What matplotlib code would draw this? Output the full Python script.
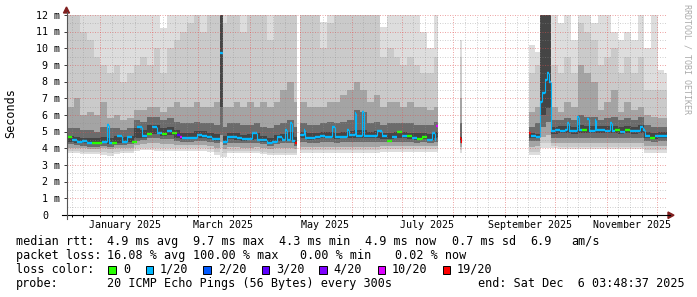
import datetime as dt

import numpy as np
import matplotlib
matplotlib.use('Agg')
import matplotlib.pyplot as plt
import matplotlib.dates as mdates
import matplotlib.transforms as mtransforms
from matplotlib.lines import Line2D
from matplotlib.patches import Polygon, Rectangle

W, H = 697, 297

start = dt.datetime(2024, 12, 12, 6, 0)   # left edge of the time axis
span = 360                                 # days on the axis

# smoke columns, start day (offset from start) of each column; None rows = no data
smoke_day = [
    0, 4, 8, 12, 16, 20, 24, 28, 32, 36, 40, 44, 48, 52, 56, 60, 64, 68,
    72, 76, 80, 84, 88, 92.0, 93.4, 96, 100, 104, 108, 112, 116, 120, 124,
    128, 132, 136,
    138,
    140, 144, 148, 152, 156, 160, 164, 168, 172, 176, 180, 184, 188, 192,
    196, 200, 204, 208, 212, 216, 220,
    222.3, 235.8, 237.2,
    277.2, 280.6, 283.8, 287.2, 290.4, 294.4, 298.4, 302.4, 306.4, 310.4,
    314.4, 318.4, 322.4, 326.4, 330.4, 334.4, 338.4, 342.4, 346.4, 350.4,
    354.4, 358.4,
]

# ping percentiles (ms) per smoke column, p01 = fastest ... p20 = slowest
p01 = [
    3.7, 3.7, 3.65, 3.65, 3.65, 3.6, 3.55, 3.65, 3.7, 3.7, 3.85, 3.9, 3.9, 3.85, 3.85, 3.85, 3.85, 3.85,
    3.85, 3.85, 3.85, 3.8, 3.6, 3.5, 3.5, 3.7, 3.7, 3.7, 3.7, 3.7, 3.65, 3.6, 3.6,
    3.6, 3.6, 3.6,
    None,
    3.75, 3.75, 3.75, 3.75, 3.75, 3.75, 3.75, 3.75, 3.75, 3.75, 3.75, 3.75, 3.8, 3.8,
    3.8, 3.8, 3.8, 3.8, 3.8, 3.8, 3.8,
    None, 3.7, None,
    3.6, 3.6, 4.0, 4.0, 4.0, 3.95, 3.95, 3.95, 3.95, 3.95,
    3.95, 3.95, 3.95, 3.95, 3.95, 3.95, 3.95, 3.95, 3.7, 3.7,
    3.7, 3.7,
]
p02 = [
    3.85, 3.85, 3.8, 3.8, 3.8, 3.8, 3.75, 3.8, 3.85, 3.85, 4.0, 4.05, 4.05, 4.0, 4.0, 4.0, 4.0, 4.0,
    4.0, 4.0, 4.0, 3.95, 3.8, 4.0, 3.7, 3.85, 3.85, 3.85, 3.85, 3.85, 3.8, 3.75, 3.75,
    3.75, 3.75, 3.75,
    None,
    3.9, 3.9, 3.9, 3.9, 3.9, 3.9, 3.9, 3.9, 3.9, 3.9, 3.9, 3.9, 3.95, 3.95,
    3.95, 3.95, 3.95, 3.95, 3.95, 3.95, 3.95,
    None, 3.9, None,
    3.8, 3.8, 4.3, 4.3, 4.15, 4.1, 4.1, 4.1, 4.1, 4.1,
    4.1, 4.1, 4.1, 4.1, 4.1, 4.1, 4.1, 4.1, 3.9, 3.9,
    3.9, 3.9,
]
p04 = [
    4.05, 4.0, 4.0, 3.95, 3.95, 4.0, 3.95, 4.0, 4.0, 4.05, 4.2, 4.25, 4.3, 4.3, 4.25, 4.25, 4.2, 4.2,
    4.2, 4.2, 4.2, 4.15, 4.05, 4.4, 3.95, 4.1, 4.1, 4.05, 4.05, 4.1, 4.0, 3.95, 4.0,
    4.0, 4.0, 3.95,
    None,
    4.1, 4.1, 4.1, 4.1, 4.1, 4.1, 4.1, 4.1, 4.1, 4.1, 4.1, 4.1, 4.15, 4.15,
    4.15, 4.15, 4.15, 4.15, 4.15, 4.15, 4.15,
    None, 4.1, None,
    4.1, 4.15, 4.7, 4.8, 4.35, 4.35, 4.35, 4.35, 4.35, 4.35,
    4.35, 4.35, 4.35, 4.35, 4.35, 4.35, 4.35, 4.35, 4.15, 4.15,
    4.15, 4.15,
]
p07 = [
    4.25, 4.2, 4.15, 4.1, 4.1, 4.15, 4.1, 4.2, 4.2, 4.25, 4.45, 4.5, 4.6, 4.6, 4.55, 4.55, 4.45, 4.4,
    4.4, 4.45, 4.45, 4.4, 4.3, 4.8, 4.2, 4.35, 4.35, 4.3, 4.3, 4.35, 4.25, 4.15, 4.25,
    4.3, 4.3, 4.15,
    None,
    4.4, 4.35, 4.35, 4.4, 4.4, 4.35, 4.4, 4.4, 4.4, 4.4, 4.4, 4.4, 4.4, 4.4,
    4.4, 4.4, 4.4, 4.35, 4.4, 4.35, 4.4,
    None, 4.3, None,
    4.45, 4.45, 5.3, 5.6, 4.65, 4.65, 4.65, 4.65, 4.65, 4.65,
    4.65, 4.65, 4.65, 4.65, 4.65, 4.65, 4.65, 4.65, 4.45, 4.4,
    4.45, 4.45,
]
p09 = [
    4.4, 4.35, 4.3, 4.25, 4.25, 4.3, 4.25, 4.35, 4.35, 4.4, 4.65, 4.65, 4.85, 4.85, 4.75, 4.8, 4.65, 4.55,
    4.55, 4.6, 4.6, 4.55, 4.45, 6.5, 4.35, 4.55, 4.5, 4.45, 4.5, 4.55, 4.4, 4.3, 4.45,
    4.45, 4.5, 4.3,
    None,
    4.6, 4.5, 4.55, 4.6, 4.6, 4.55, 4.6, 4.6, 4.6, 4.6, 4.6, 4.6, 4.55, 4.55,
    4.6, 4.6, 4.55, 4.5, 4.55, 4.5, 4.6,
    None, 4.45, None,
    4.65, 4.6, 6.0, 6.4, 4.85, 4.9, 4.9, 4.85, 4.9, 4.9,
    4.9, 4.9, 4.9, 4.9, 4.85, 4.9, 4.85, 4.9, 4.6, 4.55,
    4.6, 4.6,
]
p12 = [
    4.75, 4.7, 4.65, 4.6, 4.6, 4.7, 4.65, 4.75, 4.7, 4.75, 5.2, 5.1, 5.4, 5.4, 5.25, 5.3, 5.1, 4.95,
    4.95, 5.05, 5.05, 4.95, 4.85, 12.5, 4.75, 4.95, 4.9, 4.8, 4.85, 4.95, 4.75, 4.65, 4.8,
    4.85, 5.0, 4.7,
    None,
    5.0, 4.9, 4.95, 5.0, 5.0, 4.95, 5.0, 5.05, 5.1, 5.1, 5.0, 5.05, 4.95, 4.95,
    5.0, 5.0, 4.95, 4.9, 4.9, 4.85, 5.0,
    None, 4.7, None,
    4.9, 4.85, 12.5, 12.5, 5.3, 5.35, 5.35, 5.3, 5.4, 5.35,
    5.35, 5.35, 5.35, 5.35, 5.3, 5.35, 5.3, 5.4, 5.0, 4.95,
    5.0, 5.0,
]
p14 = [
    5.2, 5.2, 5.1, 5.1, 5.0, 5.3, 5.2, 5.2, 5.1, 5.2, 5.7, 5.6, 5.9, 5.9, 5.7, 5.8, 5.6, 5.5,
    5.5, 5.6, 5.5, 5.5, 5.4, 12.5, 5.3, 5.5, 5.5, 5.4, 5.4, 5.5, 5.3, 5.2, 5.4,
    5.5, 5.7, 5.3,
    None,
    5.5, 5.4, 5.4, 5.5, 5.6, 5.5, 5.6, 5.7, 6.3, 6.2, 5.5, 5.6, 5.4, 5.5,
    5.5, 5.5, 5.5, 5.4, 5.4, 5.4, 5.6,
    None, 5.5, None,
    5.3, 5.5, 12.5, 12.5, 5.7, 5.7, 5.8, 5.7, 6.0, 5.9,
    5.9, 5.7, 5.8, 5.9, 5.7, 5.8, 5.7, 5.9, 5.4, 5.3,
    5.3, 5.3,
]
p17 = [
    6.5, 7.0, 6.0, 6.2, 6.0, 6.8, 5.8, 6.0, 5.7, 5.8, 6.3, 6.3, 6.5, 6.5, 6.2, 6.5, 6.8, 6.5,
    6.5, 6.8, 6.5, 6.5, 6.8, 12.5, 6.5, 6.5, 6.8, 6.5, 6.8, 6.5, 6.8, 6.5, 6.8,
    7.5, 8.0, 6.8,
    None,
    6.8, 6.5, 6.5, 6.5, 6.8, 6.8, 7.2, 7.5, 8.0, 7.5, 6.8, 7.2, 6.5, 6.8,
    6.8, 6.5, 6.8, 6.5, 6.5, 6.3, 6.5,
    None, 7.0, None,
    6.2, 6.5, 12.5, 12.5, 6.5, 6.2, 6.8, 6.5, 9.0, 8.5,
    8.0, 6.3, 6.8, 7.5, 6.2, 6.8, 6.3, 6.5, 6.0, 5.9,
    5.8, 5.8,
]
p19 = [
    12.5, 12.5, 11.0, 10.5, 9.5, 9.0, 8.5, 9.0, 8.0, 8.5, 9.0, 9.5, 9.0, 10.0, 8.5, 10.0, 10.5, 11.0,
    11.5, 12.5, 11.0, 12.5, 12.5, 12.5, 11.5, 12.5, 12.5, 11.0, 12.5, 12.5, 12.5, 10.5, 12.5,
    12.5, 12.5, 12.5,
    None,
    12.5, 12.5, 12.5, 10.0, 11.5, 12.5, 12.5, 12.5, 12.5, 12.5, 12.5, 12.5, 9.5, 10.0,
    9.5, 9.0, 9.5, 9.0, 8.5, 8.5, 9.5,
    None, 9.5, None,
    8.5, 9.0, 12.5, 12.5, 9.0, 8.5, 9.5, 8.5, 11.5, 11.0,
    10.5, 9.0, 9.5, 10.0, 8.5, 9.5, 8.5, 9.5, 7.5, 7.5,
    7.5, 7.5,
]
p20 = [
    12.5, 12.5, 12.5, 12.5, 12.5, 12.5, 12.5, 12.5, 12.5, 12.5, 12.5, 12.5, 12.5, 12.5, 11.2, 12.5, 12.5, 12.5,
    12.5, 12.5, 12.5, 12.5, 12.5, 12.5, 12.5, 12.5, 12.5, 12.5, 12.5, 12.5, 12.5, 12.5, 12.5,
    12.5, 12.5, 12.5,
    None,
    12.5, 12.5, 12.5, 11.6, 12.5, 12.5, 12.5, 12.5, 12.5, 12.5, 12.5, 12.5, 11.3, 12.5,
    12.5, 12.5, 12.5, 12.5, 11.0, 10.0, 12.5,
    None, 10.5, None,
    10.2, 9.8, 12.5, 12.5, 12.5, 11.5, 12.5, 10.5, 12.5, 12.5,
    11.5, 12.5, 12.5, 11.0, 10.5, 11.0, 10.5, 12.5, 10.0, 12.5,
    8.7, 8.5,
]

# median rtt (ms) and lost pings (of 20) per step
med_day = [
    0, 3, 6, 9, 12, 15, 18, 21, 24, 25, 27, 30, 33, 36, 39, 42, 45, 48, 51, 54, 57, 60, 63, 66, 68, 69,
    72, 75, 78, 81, 84, 87, 90, 92.0, 93.4, 96, 99, 102, 105, 108, 111, 114, 117, 120, 123, 126, 129,
    131, 132, 134, 135, 136.5,
    138,
    140, 142, 143, 146, 149, 152, 155, 158, 159, 160.5, 163, 166, 168, 169, 171, 172.5, 173.5, 176,
    177, 178, 180, 183, 186, 189, 192, 195, 198, 201, 204, 207, 210, 213, 216, 219, 220.5, 221.5,
    222.3,
    235.8, 236.4,
    237.2,
    277.2, 278.4, 281.1, 283.8, 285.1, 286.6, 287.9, 289.2, 290.4, 293, 296, 299, 300, 301, 303,
    306, 307, 309, 312, 313, 315, 316.5, 317.5, 320, 323, 326, 327, 329, 332, 335, 338, 341, 344,
    345.8, 347, 350, 353, 356,
]
med_ms = [
    4.7, 4.5, 4.4, 4.45, 4.35, 4.35, 4.35, 4.4, 5.4, 4.3, 4.35, 4.75, 4.4, 4.7, 4.4, 5.3, 4.75, 4.85,
    5.3, 4.95, 4.85, 5.05, 4.9, 4.8, 4.7, 4.6,
    4.65, 4.65, 4.8, 4.75, 4.7, 4.55, 4.55, 9.7, 4.4, 4.7, 4.7, 4.6, 4.55, 4.55, 4.9, 4.5, 4.5, 4.35,
    4.4, 4.7, 4.5, 5.1, 4.5, 5.5, 4.45, 4.35,
    None,
    4.8, 5.1, 4.65, 4.65, 4.7, 4.75, 4.7, 4.7, 5.3, 4.7, 4.7, 4.7, 5.1, 4.8, 4.8, 6.1, 4.75, 4.75,
    6.2, 4.75, 4.75, 4.75, 5.05, 4.75, 4.45, 4.7, 5.0, 4.75, 4.75, 4.65, 4.55, 4.7, 4.5, 4.9, 4.5, 5.35,
    None,
    4.6, 4.4,
    None,
    4.9, 4.75, 4.7, 6.8, 7.35, 8.1, 8.5, 8.0, 5.05, 5.1, 5.05, 5.1, 5.55, 5.05, 5.05,
    5.9, 5.1, 5.1, 5.75, 5.05, 5.05, 5.7, 5.1, 5.1, 5.05, 5.55, 5.05, 5.1, 5.0, 5.1, 5.05, 5.05, 5.3,
    5.1, 4.75, 4.65, 4.75, 4.75,
]
med_loss = [
    0, 1, 1, 1, 1, 0, 0, 1, 1, 1, 0, 1, 1, 1, 0, 1, 1, 0, 1, 1, 0, 1, 0, 3, 10, 1,
    1, 1, 1, 1, 1, 1, 1, 1, 1, 1, 1, 1, 1, 1, 1, 1, 1, 1, 1, 1, 1, 1, 1, 1, 1, 19,
    None,
    1, 1, 1, 1, 1, 1, 1, 1, 1, 1, 1, 1, 1, 1, 1, 1, 1, 1, 1, 1, 1, 1, 1, 1,
    0, 1, 0, 1, 0, 1, 0, 0, 1, 1, 1, 10,
    None,
    19, 19,
    None,
    19, 1, 1, 1, 1, 1, 1, 1, 1, 1, 1, 1, 1, 1, 1, 1, 1, 0, 1, 1, 1, 1, 1, 1, 1, 1, 1, 0, 1, 0,
    1, 1, 1, 1, 1, 0, 1, 1,
]

loss_colors = {0: '#26ff00', 1: '#00b8ff', 2: '#0059ff', 3: '#5e00ff',
               4: '#7e00ff', 10: '#dd00ff', 19: '#ff0000'}
loss_names = {0: '0', 1: '1/20', 2: '2/20', 3: '3/20', 4: '4/20', 10: '10/20', 19: '19/20'}
label_months = [1, 3, 5, 7, 9, 11]

for arr in (p01, p02, p04, p07, p09, p12, p14, p17, p19, p20):
    assert len(arr) == len(smoke_day), len(arr)
assert len(med_ms) == len(med_day) == len(med_loss)


def fx(px):
    return px / W


def fy(py):
    return 1 - py / H


plt.rcParams['font.family'] = 'DejaVu Sans Mono'

fig = plt.figure(figsize=(W / 100, H / 100), dpi=100, facecolor='white')
ax = fig.add_axes([fx(67), fy(215), 600 / W, 200 / H])
t0 = mdates.date2num(start)
ax.set_xlim(t0, t0 + span)
ax.set_ylim(0, 12)
for s in ax.spines.values():
    s.set_visible(False)

# smoke, outer (lightest) band first
sd = np.array(smoke_day + [span], dtype=float)
widths = np.diff(sd)
bands = [(p01, p20, '#dddddd'), (p02, p19, '#cacaca'), (p04, p17, '#a4a4a4'),
         (p07, p14, '#6b6b6b'), (p09, p12, '#454545')]
for lo, hi, col in bands:
    lo = np.array(lo, dtype=float)
    hi = np.array(hi, dtype=float)
    ok = ~np.isnan(lo)
    ax.bar(t0 + sd[:-1][ok], (hi - lo)[ok], bottom=lo[ok], width=widths[ok],
           align='edge', color=col, linewidth=0, antialiased=False, zorder=1)

# median: thick steps per loss class, thin joins between steps of the same class
md = np.array(med_day + [span], dtype=float)
for code, col in loss_colors.items():
    hx, hy, vx, vy = [], [], [], []
    for i, (m, l) in enumerate(zip(med_ms, med_loss)):
        if m is None or l != code:
            continue
        hx += [md[i], md[i + 1], np.nan]
        hy += [m, m, np.nan]
        nxt = med_ms[i + 1] if i + 1 < len(med_ms) else None
        if nxt is not None and med_loss[i + 1] == code and abs(nxt - m) < 3:
            vx += [md[i + 1], md[i + 1], np.nan]
            vy += [m, nxt, np.nan]
    if hx:
        ax.plot(t0 + np.array(hx), hy, color=col, lw=1.7, solid_capstyle='butt', zorder=2)
    if vx:
        ax.plot(t0 + np.array(vx), vy, color=col, lw=0.8, solid_capstyle='butt', zorder=2)

# grid on top, like rrdtool
grid_col = (0.56, 0.56, 0.56, 0.4)
mgrid_col = (0.87, 0.31, 0.31, 0.5)
dots = (0, (1, 1.5))
for k in range(1, 25):
    ax.axhline(k * 0.5, color=mgrid_col if k % 2 == 0 else grid_col,
               lw=0.72, ls=dots, zorder=3)

month_lines, week_lines = [], []
for yy, mm in [(2024, 12)] + [(2025, m) for m in range(1, 13)]:
    month_lines.append(mdates.date2num(dt.datetime(yy, mm, 1)))
    for dd in (8, 15, 22):
        week_lines.append(mdates.date2num(dt.datetime(yy, mm, dd)))
month_lines = [v for v in month_lines if t0 < v < t0 + span]
week_lines = [v for v in week_lines if t0 < v < t0 + span]
for v in week_lines:
    ax.axvline(v, color=grid_col, lw=0.72, ls=dots, zorder=3)
for v in month_lines:
    ax.axvline(v, color=mgrid_col, lw=0.72, ls=dots, zorder=3)

ax.set_xticks(sorted(month_lines + week_lines))
ax.set_yticks(range(13))
ax.tick_params(axis='x', length=1.5, width=0.72, color='black', labelbottom=False)
ax.tick_params(axis='y', length=2.2, width=0.72, color='#404040', labelleft=False)

# tick labels
ytrans = mtransforms.blended_transform_factory(fig.transFigure, ax.transData) + \
    mtransforms.ScaledTranslation(0, -3.6 / 100, fig.dpi_scale_trans)
for v in range(13):
    if v == 0:
        fig.text(fx(48), v, '0', ha='right', va='baseline', fontsize=7.2, transform=ytrans)
    else:
        fig.text(fx(60), v, f'{v} m', ha='right', va='baseline', fontsize=7.2, transform=ytrans)

xtrans = mtransforms.blended_transform_factory(ax.transData, fig.transFigure)
for m in label_months:
    d = dt.datetime(2025, m, 16)
    fig.text(mdates.date2num(d), fy(228), d.strftime('%B %Y'), ha='center', va='baseline',
             fontsize=7.2, transform=xtrans)

fig.text(fx(11), fy(113), 'Seconds', rotation=90, ha='center', va='center', fontsize=8.5)
fig.text(fx(687), fy(4), 'RRDTOOL / TOBI OETIKER', rotation=270, ha='center', va='top',
         fontsize=6, color='#aaaaaa')

# axes with arrows
arrow_col = '#801f1f'
fig.add_artist(Line2D([fx(62), fx(670)], [fy(215), fy(215)], color='black', lw=0.8,
                      transform=fig.transFigure))
fig.add_artist(Polygon([[fx(668), fy(212)], [fx(668), fy(218.5)], [fx(674), fy(215.2)]],
                       closed=True, color=arrow_col, transform=fig.transFigure))
fig.add_artist(Line2D([fx(66.5), fx(66.5)], [fy(219), fy(12)], color='#555555', lw=0.8,
                      transform=fig.transFigure))
fig.add_artist(Polygon([[fx(63.5), fy(13)], [fx(69.5), fy(13)], [fx(66.5), fy(7)]],
                       closed=True, color=arrow_col, transform=fig.transFigure))

# legend block
fs = 8.5
rows = [
    (245, [(16, 'median rtt:'), (107.3, '4.9 ms avg'), (193.3, '9.7 ms max'),
           (279.3, '4.3 ms min'), (365, '4.9 ms now'), (451.7, '0.7 ms sd'),
           (530, '6.9'), (571.7, 'am/s')]),
    (259, [(16, 'packet loss:'), (107.3, '16.08 % avg'), (193.3, '100.00 % max'),
           (300, '0.00 % min'), (395, '0.02 % now')]),
    (273, [(16, 'loss color:')]),
    (287, [(16, 'probe:'), (107.3, '20 ICMP Echo Pings (56 Bytes) every 300s'),
           (478.3, 'end: Sat Dec  6 03:48:37 2025')]),
]
for base, items in rows:
    for x, s in items:
        fig.text(fx(x), fy(base), s, ha='left', va='baseline', fontsize=fs)

swatch_x = [108.3, 145.7, 203.3, 261.7, 319.3, 377.7, 442.7]
name_x = [123, 160, 218, 276, 333.3, 391.7, 456.7]
for sx, nx, code in zip(swatch_x, name_x, loss_colors):
    fig.add_artist(Rectangle((fx(sx), fy(273.5)), 7.5 / W, 8 / H, facecolor=loss_colors[code],
                             edgecolor='black', lw=0.7, transform=fig.transFigure))
    fig.text(fx(nx), fy(273), loss_names[code], ha='left', va='baseline', fontsize=fs)

fig.savefig('out.png', dpi=100, facecolor='white')
